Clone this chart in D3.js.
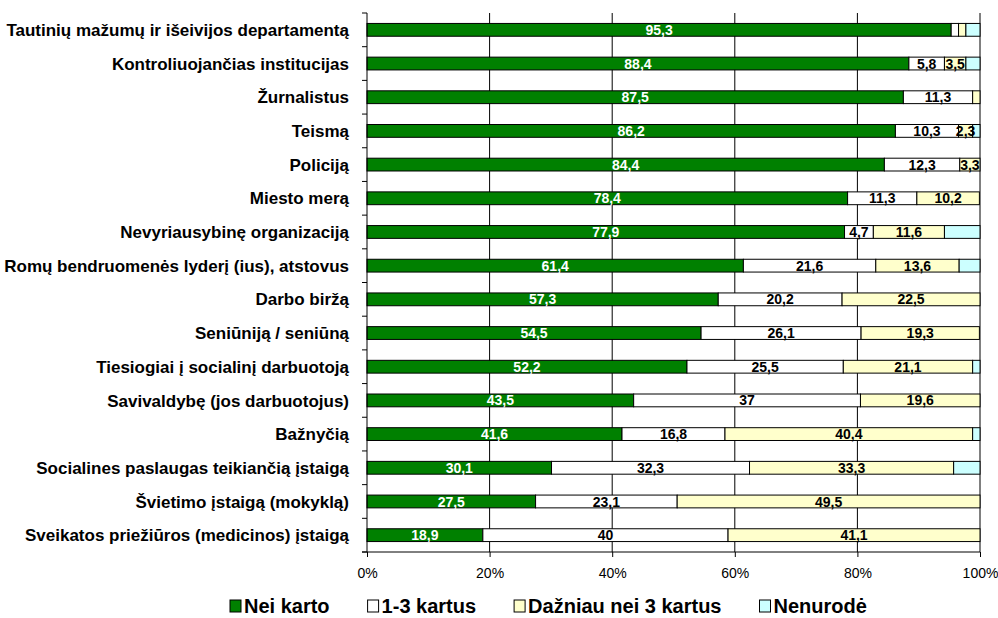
<!DOCTYPE html>
<meta charset="utf-8">
<style>
body { margin: 0; background: #fff; }
text { font-family: Arial, "Liberation Sans", sans-serif; }
</style>
<body>
<script src="https://d3js.org/d3.v7.min.js"></script>
<script>

// categories, top to bottom
var categories = [
  "Tautinių mažumų ir išeivijos departamentą",
  "Kontroliuojančias institucijas",
  "Žurnalistus",
  "Teismą",
  "Policiją",
  "Miesto merą",
  "Nevyriausybinę organizaciją",
  "Romų bendruomenės lyderį (ius), atstovus",
  "Darbo biržą",
  "Seniūniją / seniūną",
  "Tiesiogiai į socialinį darbuotoją",
  "Savivaldybę (jos darbuotojus)",
  "Bažnyčią",
  "Socialines paslaugas teikiančią įstaigą",
  "Švietimo įstaigą (mokyklą)",
  "Sveikatos priežiūros (medicinos) įstaigą"
];

var seriesNames = ["Nei karto", "1-3 kartus", "Dažniau nei 3 kartus", "Nenurodė"];
var seriesColors = ["#008000", "#ffffff", "#ffffcc", "#ccffff"];

var neiKarto = [95.3, 88.4, 87.5, 86.2, 84.4, 78.4, 77.9, 61.4, 57.3, 54.5, 52.2, 43.5, 41.6, 30.1, 27.5, 18.9];
var kartus13 = [1.2, 5.8, 11.3, 10.3, 12.3, 11.3, 4.7, 21.6, 20.2, 26.1, 25.5, 37, 16.8, 32.3, 23.1, 40];
var dazniau  = [1.2, 3.5, 1.2, 2.3, 3.3, 10.2, 11.6, 13.6, 22.5, 19.3, 21.1, 19.6, 40.4, 33.3, 49.5, 41.1];
var nenurode = [2.3, 2.3, 0, 1.2, 0, 0, 5.8, 3.4, 0, 0, 1.2, 0, 1.2, 4.3, 0, 0];

var xTicks = [0, 20, 40, 60, 80, 100];

var width = 998, height = 618;
var plot = {left: 367, right: 980, top: 13, bottom: 552};

var svg = d3.select("body").append("svg")
    .attr("width", width)
    .attr("height", height);

var x = d3.scaleLinear().domain([0, 100]).range([plot.left, plot.right]);
var y = d3.scaleBand()
    .domain(categories)
    .range([plot.top, plot.bottom])
    .paddingInner(0.62)
    .paddingOuter(0.31);

// build the stacked rows
var series = [neiKarto, kartus13, dazniau, nenurode];
var rows = categories.map(function(c, i) {
  var acc = 0;
  return series.map(function(s, k) {
    var seg = {cat: c, k: k, v: s[i], x0: acc, x1: Math.min(100, acc + s[i])};
    acc += s[i];
    return seg;
  });
});
var segs = [].concat.apply([], rows).filter(function(d) { return d.v > 0; });

// gridlines
svg.append("g").selectAll("line")
    .data(xTicks.slice(1))
  .enter().append("line")
    .attr("x1", function(d) { return x(d); })
    .attr("x2", function(d) { return x(d); })
    .attr("y1", plot.top)
    .attr("y2", plot.bottom)
    .attr("stroke", "#000")
    .attr("stroke-width", 1);

// bars
svg.append("g").selectAll("rect")
    .data(segs)
  .enter().append("rect")
    .attr("x", function(d) { return x(d.x0); })
    .attr("y", function(d) { return y(d.cat); })
    .attr("width", function(d) { return x(d.x1) - x(d.x0); })
    .attr("height", y.bandwidth())
    .attr("fill", function(d) { return seriesColors[d.k]; })
    .attr("stroke", "#000")
    .attr("stroke-width", 1);

// value labels
svg.append("g").selectAll("text")
    .data(segs.filter(function(d) { return d.k < 3 && d.v > 2; }))
  .enter().append("text")
    .attr("x", function(d) { return x((d.x0 + d.x1) / 2); })
    .attr("y", function(d) { return y(d.cat) + y.bandwidth() / 2; })
    .attr("dy", "0.36em")
    .attr("text-anchor", "middle")
    .style("font-size", "14px")
    .style("font-weight", "bold")
    .attr("fill", function(d) { return d.k === 0 ? "#fff" : "#000"; })
    .text(function(d) { return String(d.v).replace(".", ","); });

// y axis
var yAxis = svg.append("g")
    .attr("transform", "translate(" + plot.left + ",0)");
yAxis.append("line")
    .attr("x1", 0).attr("x2", 0)
    .attr("y1", plot.top).attr("y2", plot.bottom)
    .attr("stroke", "#000");
var bounds = d3.range(categories.length + 1).map(function(i) { return plot.top + i * y.step(); });
yAxis.selectAll(".tk")
    .data(bounds)
  .enter().append("line")
    .attr("x1", -5).attr("x2", 0)
    .attr("y1", function(d) { return d; })
    .attr("y2", function(d) { return d; })
    .attr("stroke", "#000");
yAxis.selectAll("text")
    .data(categories)
  .enter().append("text")
    .attr("x", -18)
    .attr("y", function(d) { return y(d) + y.bandwidth() / 2; })
    .attr("dy", "0.36em")
    .attr("text-anchor", "end")
    .style("font-size", "17px")
    .style("font-weight", "bold")
    .text(function(d) { return d; });

// x axis
var xAxis = svg.append("g")
    .attr("transform", "translate(0," + plot.bottom + ")")
    .call(d3.axisBottom(x)
      .tickValues(xTicks)
      .tickSize(5)
      .tickFormat(function(d) { return d + "%"; }));
xAxis.select(".domain").attr("d", "M" + (plot.left - 5) + ",0H" + plot.right);
xAxis.selectAll("text")
    .attr("dy", "0")
    .attr("y", 26)
    .style("font-family", "Arial, 'Liberation Sans', sans-serif")
    .style("font-size", "14px")
    .attr("fill", "#000");

// legend
var legend = svg.append("g").attr("transform", "translate(230,606)");
var lx = 0;
seriesNames.forEach(function(name, k) {
  var g = legend.append("g").attr("transform", "translate(" + lx + ",0)");
  g.append("rect")
    .attr("x", 0).attr("y", -6)
    .attr("width", 11).attr("height", 12)
    .attr("fill", seriesColors[k])
    .attr("stroke", "#000");
  var t = g.append("text")
    .attr("x", 14)
    .attr("dy", "0.36em")
    .style("font-size", "20px")
    .style("font-weight", "bold")
    .text(name);
  lx += 14 + t.node().getComputedTextLength() + 38;
});

</script>
</body>
